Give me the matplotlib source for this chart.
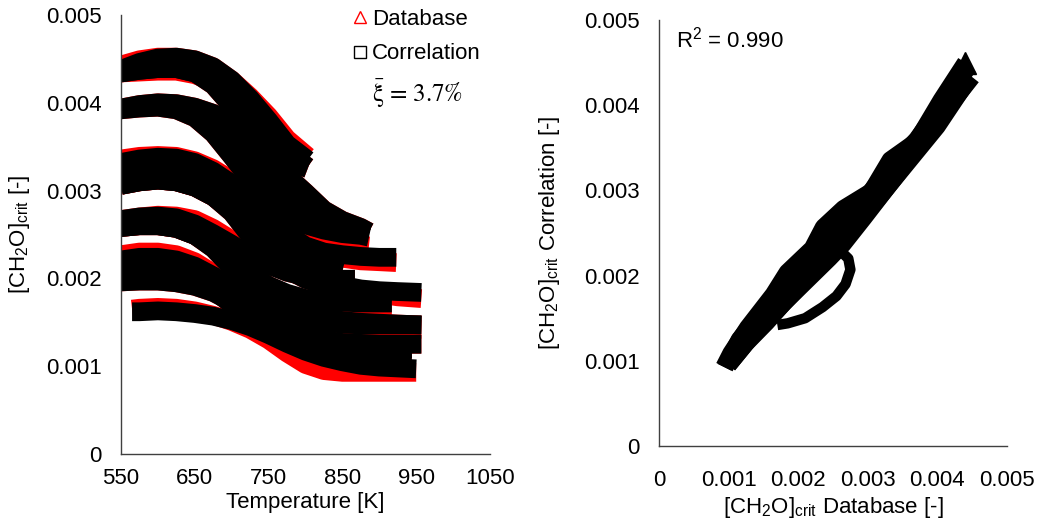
import matplotlib
matplotlib.use("Agg")
import matplotlib.pyplot as plt
from matplotlib.lines import Line2D
import numpy as np

plt.rcParams['font.family'] = ['Liberation Sans', 'DejaVu Sans']
plt.rcParams['mathtext.default'] = 'regular'
FS = 16

SCALE = 1e-3  # values below are in units of 1e-3

# ---------------- left panel: [CH2O]crit vs temperature ----------------
T_A = [550, 575, 600, 625, 650, 675, 700, 725, 750, 775, 803]
A1_corr = [4.38, 4.46, 4.51, 4.52, 4.49, 4.41, 4.26, 4.05, 3.80, 3.53, 3.35]
A1_db = [4.43, 4.49, 4.52, 4.52, 4.49, 4.41, 4.26, 4.07, 3.85, 3.59, 3.39]
A2_corr = [4.34, 4.37, 4.39, 4.39, 4.34, 4.24, 4.09, 3.89, 3.67, 3.44, 3.27]
A2_db = [4.34, 4.35, 4.36, 4.36, 4.32, 4.24, 4.09, 3.89, 3.67, 3.44, 3.27]
A3_corr = [4.34, 4.37, 4.39, 4.39, 4.34, 4.20, 3.96, 3.72, 3.50, 3.34, 3.25]
A3_db = [4.34, 4.37, 4.39, 4.39, 4.34, 4.20, 3.96, 3.72, 3.50, 3.34, 3.25]

T_B = [550, 575, 600, 625, 650, 675, 700, 725, 750, 775, 800, 825, 850, 875, 886]
B1_corr = [3.94, 3.98, 4.00, 3.99, 3.95, 3.88, 3.78, 3.60, 3.38, 3.17, 2.98, 2.78, 2.66, 2.58, 2.53]
B1_db = [3.94, 3.98, 4.00, 3.99, 3.95, 3.88, 3.78, 3.60, 3.38, 3.17, 2.98, 2.78, 2.66, 2.58, 2.53]
B2_corr = [3.92, 3.94, 3.95, 3.92, 3.83, 3.65, 3.39, 3.12, 2.89, 2.72, 2.61, 2.55, 2.51, 2.49, 2.47]
B2_db = [3.92, 3.94, 3.95, 3.92, 3.83, 3.65, 3.39, 3.12, 2.89, 2.70, 2.56, 2.46, 2.41, 2.38, 2.37]
B3_corr = [3.93, 3.96, 3.97, 3.95, 3.88, 3.75, 3.57, 3.35, 3.13, 2.95, 2.80, 2.68, 2.60, 2.54, 2.51]
B3_db = [3.93, 3.96, 3.97, 3.95, 3.88, 3.75, 3.57, 3.35, 3.13, 2.95, 2.80, 2.68, 2.60, 2.54, 2.51]

T_C1 = [550, 575, 600, 625, 650, 675, 700, 725, 750, 775, 800, 825, 850, 875, 900, 923]
C1_corr = [3.32, 3.36, 3.38, 3.37, 3.32, 3.22, 3.08, 2.90, 2.70, 2.51, 2.37, 2.30, 2.27, 2.25, 2.24, 2.24]
C1_db = [3.36, 3.39, 3.40, 3.39, 3.34, 3.25, 3.12, 2.95, 2.75, 2.55, 2.39, 2.29, 2.23, 2.20, 2.19, 2.18]

T_C4 = [550, 575, 600, 625, 650, 675, 700, 725, 750, 775, 800, 825, 850]
C4_corr = [3.20, 3.24, 3.26, 3.24, 3.18, 3.08, 2.93, 2.74, 2.54, 2.36, 2.22, 2.13, 2.08]
C4_db = [3.20, 3.24, 3.26, 3.24, 3.18, 3.08, 2.93, 2.74, 2.54, 2.36, 2.22, 2.13, 2.08]

T_C2 = [550, 575, 600, 625, 650, 675, 700, 725, 750, 775, 800, 825, 850, 875, 900, 925, 957]
C2_corr = [3.06, 3.10, 3.12, 3.10, 3.04, 2.93, 2.77, 2.58, 2.39, 2.22, 2.08, 1.98, 1.92, 1.88, 1.86, 1.85, 1.84]
C2_db = [3.06, 3.10, 3.12, 3.10, 3.04, 2.93, 2.77, 2.58, 2.39, 2.22, 2.08, 1.98, 1.91, 1.86, 1.82, 1.79, 1.77]

T_C3 = [550, 575, 600, 625, 650, 675, 700, 725, 750, 775, 800, 825, 850, 875, 900, 917]
C3_corr = [3.06, 3.10, 3.12, 3.10, 3.04, 2.93, 2.75, 2.48, 2.27, 2.10, 1.99, 1.92, 1.88, 1.86, 1.85, 1.84]
C3_db = [3.06, 3.10, 3.12, 3.10, 3.04, 2.93, 2.75, 2.48, 2.27, 2.10, 1.99, 1.92, 1.88, 1.86, 1.85, 1.84]

T_D1 = [550, 575, 600, 625, 650, 675, 700, 725, 750, 775, 800, 825, 850, 867]
D1_corr = [2.67, 2.70, 2.71, 2.69, 2.62, 2.51, 2.39, 2.26, 2.15, 2.07, 2.02, 2.00, 1.99, 1.99]
D1_db = [2.67, 2.70, 2.72, 2.71, 2.67, 2.57, 2.44, 2.29, 2.16, 2.07, 2.02, 2.00, 1.99, 1.99]

T_D2 = [550, 575, 600, 625, 650, 675, 700, 725, 750, 775, 800, 825, 850, 875, 900, 917]
D2_corr = [2.58, 2.60, 2.60, 2.57, 2.49, 2.36, 2.21, 2.05, 1.92, 1.83, 1.77, 1.74, 1.73, 1.72, 1.72, 1.72]
D2_db = [2.58, 2.60, 2.60, 2.57, 2.49, 2.36, 2.21, 2.05, 1.92, 1.82, 1.74, 1.69, 1.66, 1.64, 1.63, 1.63]

T_D3 = [550, 575, 600, 625, 650, 675, 700, 725, 750, 775, 800, 825, 850, 875, 900, 925, 957]
D3_corr = [2.58, 2.60, 2.60, 2.57, 2.49, 2.34, 2.12, 1.93, 1.77, 1.66, 1.59, 1.55, 1.52, 1.50, 1.49, 1.48, 1.47]
D3_db = [2.58, 2.60, 2.60, 2.57, 2.49, 2.34, 2.12, 1.93, 1.77, 1.66, 1.59, 1.55, 1.52, 1.50, 1.49, 1.48, 1.47]

T_E = [550, 575, 600, 625, 650, 675, 700, 725, 750, 775, 800, 825, 850, 875, 900, 925, 957]
E1_corr = [2.21, 2.24, 2.24, 2.21, 2.14, 2.03, 1.91, 1.79, 1.68, 1.59, 1.53, 1.50, 1.48, 1.47, 1.47, 1.47, 1.47]
E1_db = [2.27, 2.30, 2.30, 2.27, 2.19, 2.06, 1.92, 1.79, 1.67, 1.57, 1.50, 1.46, 1.43, 1.42, 1.42, 1.42, 1.42]
E2_corr = [2.08, 2.10, 2.10, 2.07, 2.00, 1.89, 1.77, 1.64, 1.52, 1.42, 1.35, 1.30, 1.27, 1.26, 1.25, 1.25, 1.25]
E2_db = [2.08, 2.10, 2.10, 2.07, 2.00, 1.89, 1.77, 1.64, 1.52, 1.42, 1.35, 1.30, 1.27, 1.26, 1.25, 1.25, 1.25]

T_E3 = [550, 575, 600, 625, 650, 675, 700, 725, 750, 775, 800, 825, 850, 875, 900, 925, 944]
E3_corr = [2.08, 2.10, 2.10, 2.07, 2.00, 1.87, 1.70, 1.55, 1.42, 1.33, 1.27, 1.24, 1.22, 1.21, 1.20, 1.20, 1.20]
E3_db = [2.08, 2.10, 2.10, 2.07, 2.00, 1.87, 1.70, 1.55, 1.42, 1.33, 1.27, 1.24, 1.22, 1.21, 1.20, 1.20, 1.20]

T_F = [550, 575, 600, 625, 650, 675, 700, 725, 750, 775, 800, 825, 850, 875, 900, 925, 944]
F_corr = [1.96, 1.97, 1.97, 1.95, 1.91, 1.84, 1.73, 1.58, 1.43, 1.30, 1.21, 1.15, 1.12, 1.10, 1.09, 1.09, 1.09]
F_db = [1.96, 1.97, 1.97, 1.95, 1.91, 1.84, 1.73, 1.56, 1.39, 1.25, 1.14, 1.08, 1.04, 1.03, 1.02, 1.02, 1.02]

T_G = [565, 575, 600, 625, 650, 675, 700, 725, 750, 775, 800, 825, 850, 875, 900, 925, 950]
G_corr = [1.62, 1.62, 1.63, 1.62, 1.60, 1.57, 1.52, 1.45, 1.36, 1.26, 1.17, 1.10, 1.05, 1.01, 0.99, 0.98, 0.97]
G_db = [1.65, 1.66, 1.67, 1.66, 1.63, 1.58, 1.51, 1.42, 1.30, 1.15, 1.02, 0.95, 0.93, 0.93, 0.93, 0.93, 0.93]

left_series = [
    (T_A, A1_db, A1_corr), (T_A, A2_db, A2_corr), (T_A, A3_db, A3_corr),
    (T_B, B1_db, B1_corr), (T_B, B2_db, B2_corr), (T_B, B3_db, B3_corr),
    (T_C1, C1_db, C1_corr), (T_C4, C4_db, C4_corr),
    (T_C2, C2_db, C2_corr), (T_C3, C3_db, C3_corr),
    (T_D1, D1_db, D1_corr), (T_D2, D2_db, D2_corr), (T_D3, D3_db, D3_corr),
    (T_E, E1_db, E1_corr), (T_E, E2_db, E2_corr), (T_E3, E3_db, E3_corr),
    (T_F, F_db, F_corr), (T_G, G_db, G_corr),
]

# ---------------- right panel: parity (database vs correlation) ----------------
par_U_db = [0.93, 1.03, 1.27, 1.64, 1.84, 2.20, 2.36, 2.65, 3.05, 3.32, 3.70, 4.05, 4.40]
par_U_corr = [0.93, 1.09, 1.39, 1.78, 2.04, 2.32, 2.57, 2.79, 2.99, 3.36, 3.58, 4.06, 4.50]
par_M_db = [0.95, 1.15, 1.45, 1.80, 2.15, 2.50, 2.85, 3.25, 3.70, 4.10, 4.45]
par_M_corr = [0.92, 1.25, 1.55, 1.88, 2.20, 2.52, 2.80, 3.20, 3.60, 4.05, 4.45]
par_M2_db = [1.00, 1.30, 1.65, 2.00, 2.35, 2.70, 3.10, 3.55, 4.00, 4.45]
par_M2_corr = [0.95, 1.25, 1.55, 1.85, 2.15, 2.48, 2.85, 3.30, 3.75, 4.30]
par_L_db = [1.00, 1.25, 1.55, 1.80, 2.10, 2.45, 2.65, 2.95, 3.46, 3.99, 4.50]
par_L_corr = [0.95, 1.20, 1.45, 1.68, 1.92, 2.20, 2.37, 2.68, 3.22, 3.80, 4.33]
par_loop_db = [2.62, 2.72, 2.75, 2.68, 2.55, 2.35, 2.10, 1.85, 1.70]
par_loop_corr = [2.28, 2.20, 2.07, 1.90, 1.76, 1.63, 1.50, 1.44, 1.42]

ribbon_series = [(par_U_db, par_U_corr), (par_M_db, par_M_corr),
                 (par_M2_db, par_M2_corr), (par_L_db, par_L_corr)]

xi_text = r'$\bar{\xi}$ = 3.7%'
r2_text = r'R$^2$ = 0.990'
tick_labels = ['0', '0.001', '0.002', '0.003', '0.004', '0.005']

# ---------------- figure ----------------
fig = plt.figure(figsize=(10.42, 5.29), dpi=100)
W, H = 1042, 529
axL = fig.add_axes([121 / W, 1 - 454 / H, (490 - 121) / W, (454 - 15) / H])
axR = fig.add_axes([659 / W, 1 - 446 / H, (1007 - 659) / W, (446 - 20) / H])

LW_BAND = 13.5
for T, db, corr in left_series:
    axL.plot(T, np.array(db) * SCALE, color='#FF0000', lw=LW_BAND,
             solid_capstyle='butt', solid_joinstyle='round')
for T, db, corr in left_series:
    axL.plot(T, np.array(corr) * SCALE, color='black', lw=LW_BAND,
             solid_capstyle='butt', solid_joinstyle='round')

for db, corr in ribbon_series:
    axR.plot(np.array(db) * SCALE, np.array(corr) * SCALE, color='black', lw=12,
             solid_capstyle='butt', solid_joinstyle='round')
axR.plot(np.array(par_loop_db) * SCALE, np.array(par_loop_corr) * SCALE, color='black',
         lw=7.5, solid_capstyle='butt', solid_joinstyle='round')
axR.plot(np.array(par_U_db[-1:]) * SCALE, np.array(par_U_corr[-1:]) * SCALE,
         ls='none', marker='^', ms=16, color='black')

axL.set_xlim(550, 1050)
axL.set_ylim(0, 0.005)
axL.set_xticks(np.arange(550, 1051, 100))
axL.set_yticks(np.arange(0, 0.0051, 0.001))
axL.set_yticklabels(tick_labels)
axL.set_xlabel('Temperature [K]', fontsize=FS, labelpad=2)
axL.set_ylabel(r'[CH$_2$O]$_{crit}$ [-]', fontsize=FS, labelpad=10)

axR.set_xlim(0, 0.005)
axR.set_ylim(0, 0.005)
ticks = np.arange(0, 0.0051, 0.001)
axR.set_xticks(ticks)
axR.set_xticklabels(tick_labels)
axR.set_yticks(ticks)
axR.set_yticklabels(tick_labels)
axR.set_xlabel(r'[CH$_2$O]$_{crit}$ Database [-]', fontsize=FS, labelpad=3)
axR.set_ylabel(r'[CH$_2$O]$_{crit}$ Correlation [-]', fontsize=FS, labelpad=16)

for ax in (axL, axR):
    for s in ('top', 'right'):
        ax.spines[s].set_visible(False)
    for s in ('left', 'bottom'):
        ax.spines[s].set_color('#404040')
        ax.spines[s].set_linewidth(1.0)
    ax.tick_params(length=0, labelsize=FS)
    ax.tick_params(axis='y', pad=14)
axL.tick_params(axis='x', pad=10)
axR.tick_params(axis='x', pad=17)

# legend
handles = [Line2D([], [], ls='none', marker='^', mfc='none', mec='#FF0000', ms=8, mew=1.0),
           Line2D([], [], ls='none', marker='s', mfc='none', mec='black', ms=8, mew=1.0),
           Line2D([], [], ls='none', marker=None)]
leg = axL.legend(handles, ['Database', 'Correlation', xi_text], loc='upper right',
                 bbox_to_anchor=(1.0, 1.035), frameon=False, fontsize=FS,
                 handlelength=0.6, handletextpad=0.25, labelspacing=0.62,
                 borderaxespad=0.0)
xt = leg.get_texts()[2]
xt.set_math_fontfamily('stix')
xt.set_family('STIXGeneral')
xt.set_fontsize(18)

axR.text(0.05, 0.955, r2_text, transform=axR.transAxes, fontsize=FS, ha='left', va='center')

fig.savefig('out.png', dpi=100)
